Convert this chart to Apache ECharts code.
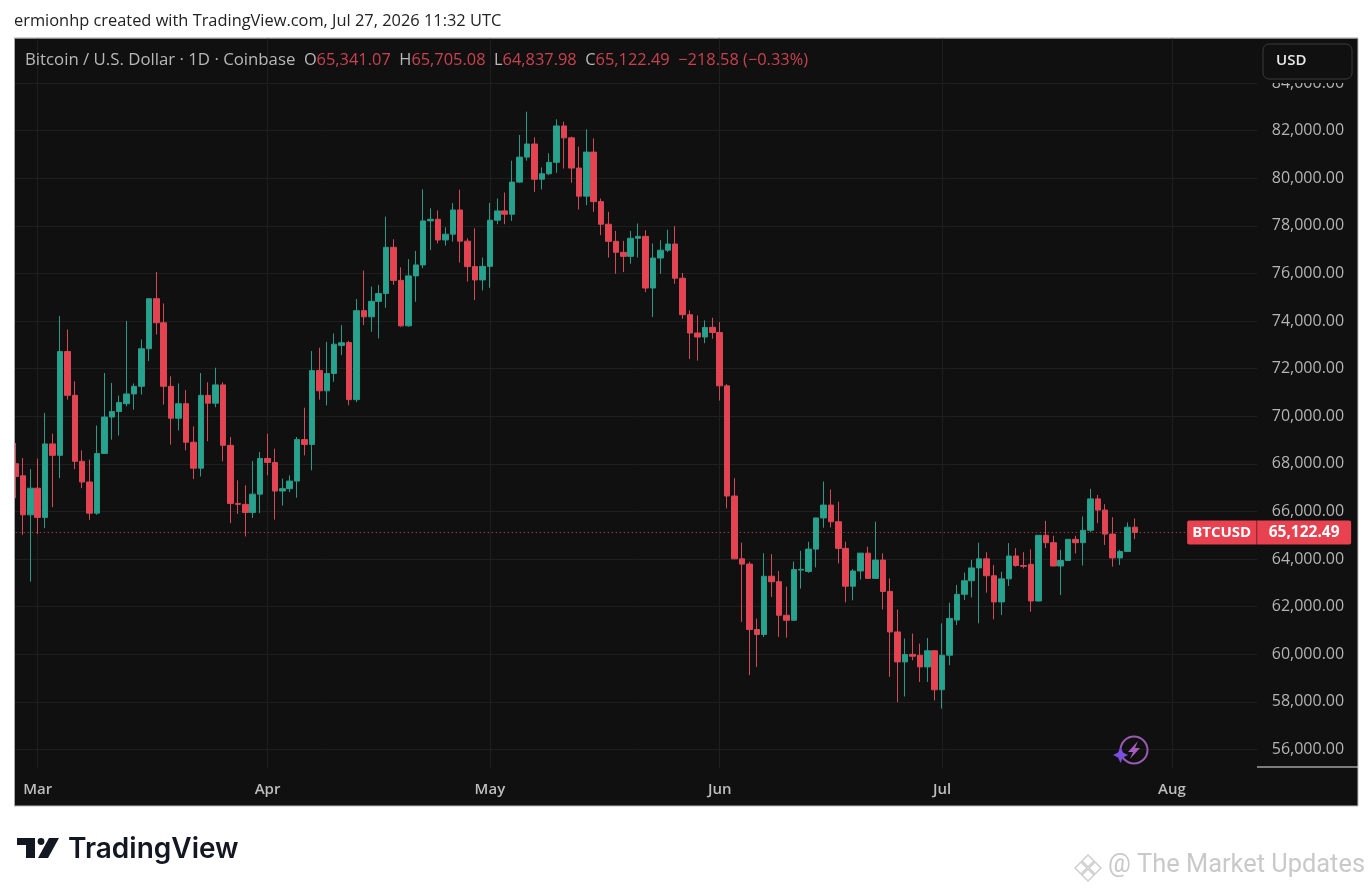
<!DOCTYPE html>
<html><head><meta charset="utf-8">
<style>html,body{margin:0;padding:0;background:#fff}#c{width:1372px;height:891px}</style>
<script src="https://cdn.jsdelivr.net/npm/echarts@6/dist/echarts.min.js"></script>
</head><body><div id="c"></div>
<script>
const firstDay = '2026-02-26';
const dayCount = 168;
const monthLabels = {'03':'Mar','04':'Apr','05':'May','06':'Jun','07':'Jul','08':'Aug'};
const openValues = [68010,67500,65860,66980,65750,68840,68360,72720,70880,68110,67240,65930,68440,69970,70200,70530,70940,71260,72840,74940,73930,71260,69920,70530,68910,67820,70880,70550,71320,68780,66340,66300,65960,66730,68230,68060,66860,66960,67280,69020,68820,71920,71070,71800,72980,73100,70700,74440,74180,74830,75160,77100,75710,73800,75900,76360,78210,78280,77410,77650,78670,77360,76290,75730,76300,78240,78630,78490,79840,80890,81440,79960,80190,80670,82200,81700,80430,79250,81100,79020,78070,77350,76890,76720,77480,77560,75390,76650,76980,77240,75800,74270,73500,73330,73740,73520,71280,66650,64010,63790,61040,60830,63280,63050,61640,61430,63540,63480,64420,65730,66270,65570,64450,62860,63500,64250,63190,63960,62640,60940,59680,60000,59960,59470,60150,58510,59960,61440,62520,63090,63630,64010,63300,62200,63170,64130,63730,63780,62240,65000,64690,63710,63940,64830,64690,65210,66530,66060,65050,64050,64320,65341.07];
const closeValues = [67470,65860,66980,65750,68840,68360,72720,70880,68110,67240,65930,68440,69970,70200,70580,70940,71260,72840,74940,73930,71260,69920,70530,68910,67820,70880,70550,71320,68780,66340,66300,65960,66730,68230,68060,66860,66960,67280,69020,68820,71920,71070,71800,73030,73090,70700,74440,74180,74830,75160,77100,75710,73800,75900,76360,78210,78280,77410,77650,78670,77360,76290,75730,76300,78240,78630,78490,79840,80890,81440,79960,80190,80670,82200,81700,80430,79250,81100,79020,78070,77350,76890,76720,77480,77560,75390,76650,76980,77240,75800,74270,73500,73330,73730,73520,71280,66650,64010,63790,61040,60830,63280,63050,61640,61430,63560,63570,64420,65730,66270,65570,64450,62860,63500,64250,63190,63960,62640,60940,59680,59990,59920,59470,60150,58510,59960,61510,62520,63090,63630,64010,63300,62200,63170,64130,63730,63700,62240,65000,64690,63710,63940,64830,64690,65210,66530,66060,65050,64050,64320,65340,65122.49];
const lowValues = [66560,65020,63050,65060,65300,66180,67400,70700,67780,66980,65650,65860,68430,69020,69190,70420,70280,70910,72320,73440,70490,68810,69410,68570,67360,67470,68950,70380,68110,65510,65900,64950,65730,65930,67520,65660,66250,66810,66580,68360,67730,70700,70460,71450,72570,70460,70600,73830,73550,73270,74560,75520,73760,73760,74810,76220,76990,77270,77170,77340,76460,75660,74880,75290,75400,78070,78070,78210,79810,80740,79430,79530,80130,80230,80410,79810,78690,78870,78590,77610,76670,75990,76060,76410,76670,75220,74170,75990,76900,75570,74100,72410,72340,73070,73260,70660,66130,64010,61360,59120,59470,60730,62410,60730,60700,61400,62760,63420,63650,65320,65330,63820,62180,62270,63140,63180,63180,61880,59050,57990,58230,59750,58840,58840,58060,57720,59540,61230,62280,62390,61300,62590,61470,61650,62870,63680,63610,61790,62210,64460,63700,62490,63930,64240,63730,65130,65510,64600,63680,63750,64310,64837.98];
const highValues = [68880,68250,67780,68220,70140,69270,74210,73650,71470,68570,68180,69610,71820,71400,70870,74000,71380,73230,74940,76060,74740,71680,71380,71100,69580,71820,71430,72040,71430,69130,67310,67100,68120,68500,69270,68640,67380,67520,69130,70360,72740,72880,73130,73480,73830,73170,74930,76120,75450,75520,78390,77440,76260,76600,76950,79540,78740,78650,77940,78960,79520,77480,77900,76670,78970,79150,79400,80740,81820,82800,81720,80460,81050,82480,82380,81750,81330,82060,81680,79150,78590,77790,77370,77790,78100,77820,77260,77400,77840,77990,76020,74450,74240,74030,74140,73960,71350,67400,64690,63890,61500,64240,64210,63500,62840,63890,64350,64730,65740,67260,66930,66410,64730,63580,64260,64520,65570,64240,63190,61880,60660,60870,60450,60690,60160,61300,62170,62910,63430,63970,64690,64290,63750,63470,64670,64460,64290,64410,65010,65610,64980,64390,64840,64980,65790,66950,66700,66310,65760,64390,65540,65705.08];
const yTicks = {min:56000,max:86000,step:2000};
const lastPrice = 65122.49;
const symbolTag = 'BTCUSD';
const headline = 'ermionhp created with TradingView.com, Jul 27, 2026 11:32 UTC';
const title = 'Bitcoin / U.S. Dollar · 1D · Coinbase';
const ohlcText = ['65,341.07','65,705.08','64,837.98','65,122.49','−218.58 (−0.33%)'];

const RED='#e8414f', GREEN='#26a38e', RW='#d24a57', GW='#2a9a87', BG='#101010', GRID='#1f1f1f', TXT='#b4b4b4';
const OS='"Open Sans", sans-serif';

const categories=[]; {const t0=Date.parse(firstDay+'T00:00:00Z');for(let i=0;i<dayCount;i++)categories.push(new Date(t0+i*864e5).toISOString().slice(0,10));}
const isMonth=(i,v)=>categories[i].endsWith('-01');
const candles=openValues.map((o,i)=>[o,closeValues[i],lowValues[i],highValues[i]]);
const fmt=v=>v.toLocaleString('en-US',{minimumFractionDigits:2,maximumFractionDigits:2});

const chart=echarts.init(document.getElementById('c'),null,{renderer:'canvas'});
chart.setOption({
 animation:false,backgroundColor:'#ffffff',
 grid:{left:11.75,width:1245.4,top:35.5,height:714,containLabel:false},
 xAxis:{type:'category',data:categories,boundaryGap:true,
  axisLine:{show:false},
  axisTick:{show:true,alignWithLabel:true,interval:isMonth,length:18,lineStyle:{color:GRID,width:1}},
  splitLine:{show:true,alignWithLabel:true,interval:isMonth,lineStyle:{color:GRID,width:1}},
  axisLabel:{show:true,interval:isMonth,margin:33,color:'#bdbdbd',fontFamily:OS,fontSize:15,fontWeight:600,hideOverlap:false,
   formatter:v=>monthLabels[v.slice(5,7)]}},
 yAxis:{type:'value',position:'right',min:yTicks.min,max:yTicks.max,interval:yTicks.step,scale:true,
  axisLine:{show:false},axisTick:{show:false},
  splitLine:{show:true,lineStyle:{color:GRID,width:1}},
  axisLabel:{show:true,align:'right',margin:87,color:TXT,fontFamily:OS,fontSize:16,padding:[0,0,4,0],
   formatter:v=>v>=yTicks.max?'':fmt(v)}},
 series:[{type:'candlestick',data:candles,barWidth:6,
  itemStyle:{color:GREEN,color0:RED,borderColor:GW,borderColor0:RW,borderWidth:1},
  markLine:{silent:true,symbol:'none',animation:false,
   lineStyle:{color:'#c9505a',type:[1,3],width:1},
   data:[{yAxis:lastPrice}],
   label:{show:true,position:'end',distance:-70,
    formatter:'{a|'+symbolTag+'}{s|}{b|'+fmt(lastPrice)+'}',
    rich:{a:{backgroundColor:RED,color:'#fff',fontFamily:OS,fontWeight:700,fontSize:15,height:24,width:69,align:'center',borderRadius:[2,0,0,2]},
          s:{backgroundColor:'#b02a38',height:24,width:1},
          b:{backgroundColor:RED,color:'#fff',fontFamily:OS,fontWeight:700,fontSize:15.5,height:24,width:94,align:'center',borderRadius:[0,2,2,0]}}}}}],
 graphic:[
  {type:'rect',z:-10,silent:true,shape:{x:14,y:38,width:1344,height:768},style:{fill:BG,stroke:'#bdbdbd',lineWidth:1}},
  {type:'rect',z:100,shape:{x:0,y:0,width:1372,height:38},style:{fill:'#fff'}},
  {type:'rect',z:100,shape:{x:0,y:0,width:14,height:891},style:{fill:'#fff'}},
  {type:'line',z:101,shape:{x1:14,y1:38,x2:1358,y2:38},style:{stroke:'#a8a8a8',lineWidth:1}},
  {type:'line',z:101,shape:{x1:14.5,y1:38,x2:14.5,y2:806},style:{stroke:'#a8a8a8',lineWidth:1}},
  {type:'line',z:101,shape:{x1:1257,y1:767,x2:1358,y2:767},style:{stroke:'#e8e8e8',lineWidth:1}},
  {type:'text',z:102,style:{x:14,y:21,text:headline,verticalAlign:'middle',fill:'#222',font:'16.4px '+OS}},
  {type:'text',z:102,style:{x:25,y:60,verticalAlign:'middle',
    text:'{t|'+title+'}{l|  O}{v|'+ohlcText[0]+'}{l|  H}{v|'+ohlcText[1]+'}{l|  L}{v|'+ohlcText[2]+'}{l|  C}{v|'+ohlcText[3]+'}{v|  '+ohlcText[4]+'}',
    rich:{t:{fill:'#b8b8b8',font:'16.8px '+OS},l:{fill:'#b8b8b8',font:'16.4px '+OS},v:{fill:'#c9424f',font:'16.4px '+OS}}}},
  {type:'rect',z:103,shape:{x:1263,y:60,width:89,height:23},style:{fill:BG}},
  {type:'rect',z:103,shape:{x:1263,y:44,width:89,height:35,r:6},style:{fill:BG,stroke:'#3a3a3a',lineWidth:1}},
  {type:'text',z:104,style:{x:1276,y:61,text:'USD',verticalAlign:'middle',fill:'#e8e8e8',font:'600 15px '+OS}},
  {type:'circle',z:104,shape:{cx:1134,cy:750,r:13.5},style:{fill:'none',stroke:'#9a5ab0',lineWidth:2}},
  {type:'polygon',z:105,shape:{points:[[1138,741],[1128,752],[1133,752],[1130,759],[1140,748],[1135,748]]},style:{fill:'#a85cc0'}},
  {type:'polygon',z:105,shape:{points:[[1120.5,747],[1123,752.5],[1128,755],[1123,757.5],[1120.5,763],[1118,757.5],[1113,755],[1118,752.5]]},style:{fill:'#7a4ee0'}},
  {type:'polygon',z:102,shape:{points:[[17,838],[35,838],[35,858],[26,858],[26,845],[17,845]]},style:{fill:'#131722'}},
  {type:'circle',z:102,shape:{cx:41,cy:841.5,r:3.4},style:{fill:'#131722'}},
  {type:'polygon',z:102,shape:{points:[[49,838],[59,838],[48,858],[38,858]]},style:{fill:'#131722'}},
  {type:'text',z:102,style:{x:68,y:850,text:'TradingView',verticalAlign:'middle',fill:'#131722',font:'600 28px Inter, sans-serif'}},
  {type:'text',z:102,style:{x:1108,y:866,text:'@ The Market Updates',verticalAlign:'middle',fill:'#c9c9c9',font:'25.4px Roboto, sans-serif'}},
  {type:'polygon',z:102,shape:{points:[[1088,855],[1094,861],[1088,867],[1082,861]]},style:{fill:'none',stroke:'#cfcfcf',lineWidth:1.5}},
  {type:'polygon',z:102,shape:{points:[[1081,862],[1087,868],[1081,874],[1075,868]]},style:{fill:'none',stroke:'#cfcfcf',lineWidth:1.5}},
  {type:'polygon',z:102,shape:{points:[[1095,862],[1101,868],[1095,874],[1089,868]]},style:{fill:'none',stroke:'#cfcfcf',lineWidth:1.5}},
  {type:'polygon',z:102,shape:{points:[[1088,869],[1094,875],[1088,881],[1082,875]]},style:{fill:'none',stroke:'#cfcfcf',lineWidth:1.5}}
 ]
});
</script></body></html>
